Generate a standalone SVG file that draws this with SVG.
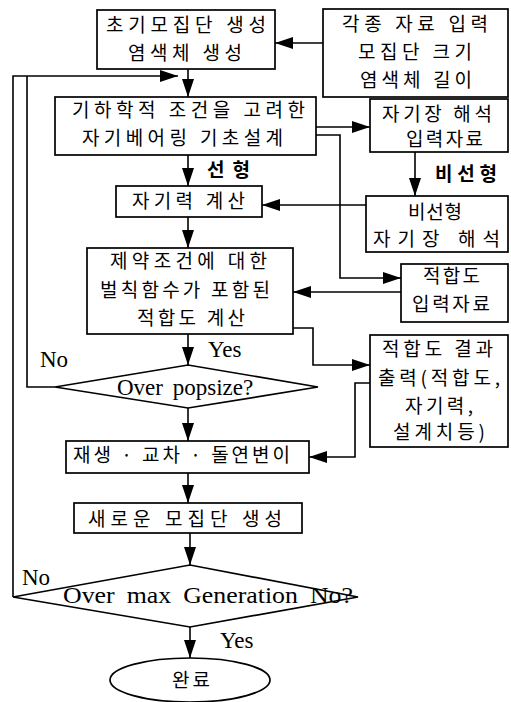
<svg xmlns="http://www.w3.org/2000/svg" width="511" height="702" viewBox="0 0 511 702">
<style>
.box{fill:#fff;stroke:#000;stroke-width:1.7}
.ln{fill:none;stroke:#000;stroke-width:1.6}
.kr{font-family:"Noto Sans CJK KR","Noto Sans",sans-serif;font-size:19px;fill:#000}
.krb{font-family:"Noto Sans CJK KR","Noto Sans",sans-serif;font-size:19px;font-weight:bold;fill:#000}
.en{font-family:"Liberation Serif","Times New Roman",serif;font-size:23px;fill:#000}
</style>
<defs>
<marker id="ah" markerUnits="userSpaceOnUse" markerWidth="18" markerHeight="12" refX="18" refY="6" orient="auto">
<path d="M0,0 L18,6 L0,12 z" fill="#000"/>
</marker>
</defs>
<rect width="511" height="702" fill="#fff"/>
<g id="connectors">
<path class="ln" d="M323,43 H275" marker-end="url(#ah)"/>
<path class="ln" d="M188,69 V97" marker-end="url(#ah)"/>
<path class="ln" d="M13,597 V76 H178" marker-end="url(#ah)"/>
<path class="ln" d="M55,387 H27 V76"/>
<path class="ln" d="M316,127 H370" marker-end="url(#ah)"/>
<path class="ln" d="M316,135 H340 V278 H401" marker-end="url(#ah)"/>
<path class="ln" d="M188,155 V186" marker-end="url(#ah)"/>
<path class="ln" d="M415,152 V196" marker-end="url(#ah)"/>
<path class="ln" d="M366,205 H262" marker-end="url(#ah)"/>
<path class="ln" d="M188,217 V248" marker-end="url(#ah)"/>
<path class="ln" d="M401,292 H293" marker-end="url(#ah)"/>
<path class="ln" d="M293,328 H313 V365 H370" marker-end="url(#ah)"/>
<path class="ln" d="M188,334 V365" marker-end="url(#ah)"/>
<path class="ln" d="M370,383 H355 V457 H309" marker-end="url(#ah)"/>
<path class="ln" d="M188,408 V441" marker-end="url(#ah)"/>
<path class="ln" d="M188,473 V503" marker-end="url(#ah)"/>
<path class="ln" d="M190,533 V565" marker-end="url(#ah)"/>
<path class="ln" d="M190,627 V658" marker-end="url(#ah)"/>
</g>
<g id="init">
<rect class="box" x="97" y="10" width="178" height="59"/>
<text class="kr" x="106" y="32" textLength="160" lengthAdjust="spacing">초기모집단 생성</text>
<text class="kr" x="128" y="60" textLength="114" lengthAdjust="spacing">염색체 생성</text>
</g>
<g id="input">
<rect class="box" x="323" y="9" width="185" height="88"/>
<text class="kr" x="342" y="31" textLength="146" lengthAdjust="spacing">각종 자료 입력</text>
<text class="kr" x="358" y="59" textLength="114" lengthAdjust="spacing">모집단 크기</text>
<text class="kr" x="360" y="87" textLength="112" lengthAdjust="spacing">염색체 길이</text>
</g>
<g id="design">
<rect class="box" x="55" y="97" width="261" height="58"/>
<text class="kr" x="72" y="117" textLength="233" lengthAdjust="spacing">기하학적 조건을 고려한</text>
<text class="kr" x="82" y="145" textLength="201" lengthAdjust="spacing">자기베어링 기초설계</text>
</g>
<g id="fieldinput">
<rect class="box" x="370" y="99" width="138" height="53"/>
<text class="kr" x="382" y="121" textLength="110" lengthAdjust="spacing">자기장 해석</text>
<text class="kr" x="406" y="146" textLength="77" lengthAdjust="spacing">입력자료</text>
</g>
<g id="force">
<rect class="box" x="116" y="186" width="146" height="31"/>
<text class="kr" x="132" y="208" textLength="113" lengthAdjust="spacing">자기력 계산</text>
</g>
<g id="nonlinear">
<rect class="box" x="366" y="196" width="142" height="56"/>
<text class="kr" x="408" y="219" textLength="54" lengthAdjust="spacing">비선형</text>
<text class="kr" x="373" y="246" textLength="127" lengthAdjust="spacing">자기장 해석</text>
</g>
<g id="fitness">
<rect class="box" x="87" y="248" width="206" height="86"/>
<text class="kr" x="110" y="268" textLength="157" lengthAdjust="spacing">제약조건에 대한</text>
<text class="kr" x="100" y="297" textLength="170" lengthAdjust="spacing">벌칙함수가 포함된</text>
<text class="kr" x="137" y="325" textLength="108" lengthAdjust="spacing">적합도 계산</text>
</g>
<g id="fitinput">
<rect class="box" x="401" y="264" width="107" height="58"/>
<text class="kr" x="423" y="283" textLength="57" lengthAdjust="spacing">적합도</text>
<text class="kr" x="412" y="311" textLength="78" lengthAdjust="spacing">입력자료</text>
</g>
<g id="fitoutput">
<rect class="box" x="370" y="335" width="138" height="112"/>
<text class="kr" x="382" y="356" textLength="111" lengthAdjust="spacing">적합도 결과</text>
<text class="kr" x="378" y="385" textLength="122" lengthAdjust="spacing">출력(적합도,</text>
<text class="kr" x="405" y="413" textLength="68" lengthAdjust="spacing">자기력,</text>
<text class="kr" x="393" y="439" textLength="92" lengthAdjust="spacing">설계치등)</text>
</g>
<g id="popsize">
<polygon class="box" points="55,387 188,365 318,387 188,408"/>
<text class="en" x="117" y="395" word-spacing="4">Over popsize?</text>
</g>
<g id="genetic">
<rect class="box" x="66" y="441" width="243" height="32"/>
<text class="kr" x="73" y="462" textLength="217" lengthAdjust="spacing">재생 · 교차 · 돌연변이</text>
</g>
<g id="newpop">
<rect class="box" x="74" y="503" width="228" height="30"/>
<text class="kr" x="88" y="526" textLength="194" lengthAdjust="spacing">새로운 모집단 생성</text>
</g>
<g id="maxgen">
<polygon class="box" points="13,597 190,565 358,597 190,627"/>
<text class="en" x="63" y="603" font-size="24" word-spacing="5" textLength="290" lengthAdjust="spacingAndGlyphs">Over max Generation No?</text>
</g>
<g id="done">
<ellipse class="box" cx="190" cy="680" rx="80" ry="22"/>
<text class="kr" x="172" y="687" textLength="38" lengthAdjust="spacing">완료</text>
</g>
<g id="labels">
<text class="krb" x="207" y="177" textLength="43" lengthAdjust="spacing">선형</text>
<text class="krb" x="435" y="181" textLength="62" lengthAdjust="spacing">비선형</text>
<text class="en" x="208" y="357" font-size="22">Yes</text>
<text class="en" x="40" y="367" font-size="22">No</text>
<text class="en" x="22" y="585" font-size="22">No</text>
<text class="en" x="220" y="648" font-size="22">Yes</text>
</g>
</svg>
